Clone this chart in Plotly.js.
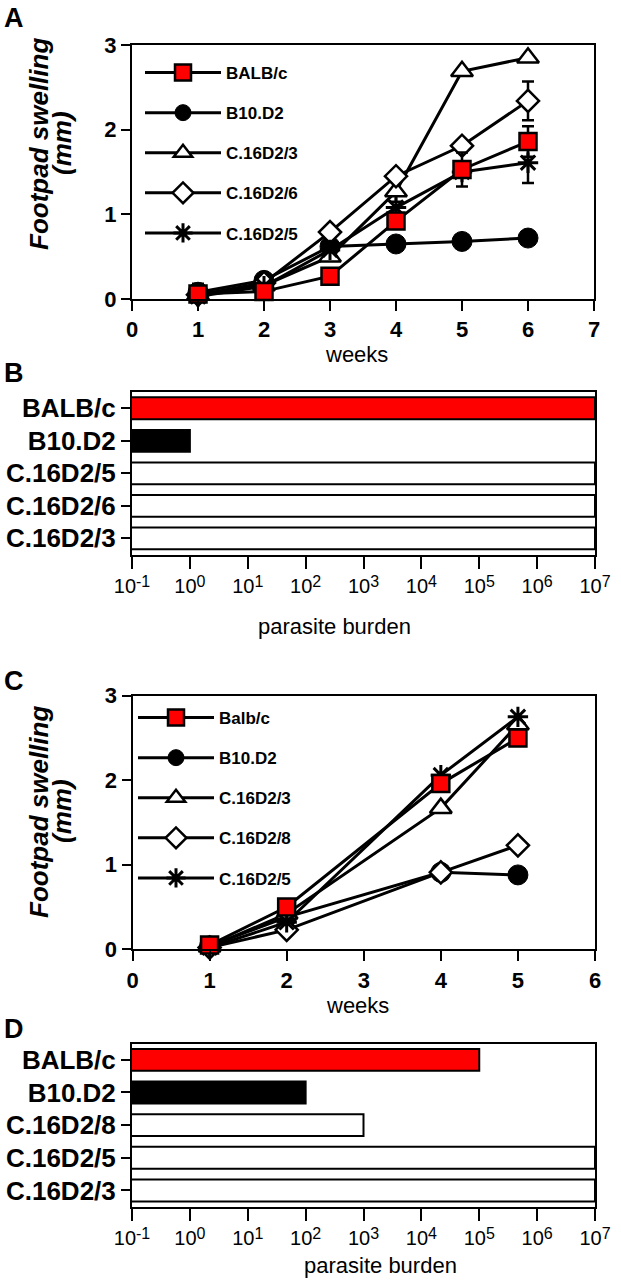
<!DOCTYPE html>
<html><head><meta charset="utf-8">
<script src="https://cdn.plot.ly/plotly-3.0.1.min.js"></script>
<style>html,body{margin:0;padding:0;background:#fff}</style>
</head><body><div id="chart" style="width:621px;height:1280px"></div>
<script>
// ---------- Panel A data ----------
const weeksA = [1, 2, 3, 4, 5, 6];
const balbA = [0.06, 0.09, 0.27, 0.92, 1.53, 1.86];
const balbAErr = [0.12, 0, 0, 0, 0.2, 0.18];
const b10A = [0.08, 0.22, 0.62, 0.65, 0.68, 0.72];
const c3A = [0.05, 0.16, 0.50, 1.27, 2.69, 2.85];
const c3AErr = [0, 0, 0, 0.12, 0, 0];
const c6A = [0.05, 0.19, 0.79, 1.45, 1.81, 2.34];
const c6AErr = [0, 0, 0, 0, 0, 0.23];
const c5A = [0.03, 0.15, 0.58, 1.08, 1.50, 1.61];
const c5AErr = [0, 0, 0, 0, 0, 0.24];
// ---------- Panel C data ----------
const weeksC = [1, 2, 4, 5];
const balbC = [0.05, 0.50, 1.96, 2.50];
const b10C = [0.04, 0.38, 0.91, 0.88];
const c3C = [0.03, 0.42, 1.67, 2.66];
const c8C = [0.02, 0.23, 0.91, 1.23];
const c5C = [0.02, 0.32, 2.06, 2.75];
// ---------- Panel B / D data ----------
const strainsB = ['BALB/c', 'B10.D2', 'C.16D2/5', 'C.16D2/6', 'C.16D2/3'];
const burdenB = [1e7, 1e0, 1e7, 1e7, 1e7];
const strainsD = ['BALB/c', 'B10.D2', 'C.16D2/8', 'C.16D2/5', 'C.16D2/3'];
const burdenD = [1e5, 1e2, 1e3, 1e7, 1e7];
const logTickVals = [0.1, 1, 10, 100, 1e3, 1e4, 1e5, 1e6, 1e7];
const logTickExp = ['-1', '0', '1', '2', '3', '4', '5', '6', '7'];

const FONT = 'Arial, "Liberation Sans", sans-serif';
const W = 621, H = 1280;
const px = v => v / W;
const py = v => 1 - v / H;
const logTickText = logTickExp.map(e => '10<span style="font-size:16px;baseline-shift:40%">' + e + '</span>');

function barColor(name) {
  if (name.toUpperCase() === 'BALB/C') return '#ff0000';
  if (name === 'B10.D2') return '#000000';
  return '#ffffff';
}

const styles = {
  balb: {symbol: 'square', size: 17, color: '#ff0000', line: {color: '#000', width: 2.5}},
  b10: {symbol: 'circle', size: 20, color: '#000', line: {color: '#000', width: 1}},
  c3: {symbol: 'triangle-up', size: 19, color: '#fff', line: {color: '#000', width: 2.5}},
  c6: {symbol: 'diamond', size: 17, color: '#fff', line: {color: '#000', width: 2.5}},
  c5: {symbol: 'asterisk-open', size: 17, color: '#000', line: {color: '#000', width: 3}}
};

function lineTrace(x, y, name, st, xa, ya, leg, rank, err) {
  const t = {
    type: 'scatter', mode: 'lines+markers', x: x, y: y, name: name,
    xaxis: xa, yaxis: ya, legend: leg, legendrank: rank, legendgroup: leg + name,
    line: {color: '#000', width: 3}, marker: st, cliponaxis: false
  };
  if (err) t.error_y = {type: 'data', array: err, visible: true, color: '#000', thickness: 2.5, width: 6};
  return t;
}

const data = [
  // Panel A (draw order: circle, triangle, diamond, star, square)
  lineTrace(weeksA, b10A, 'B10.D2', styles.b10, 'x', 'y', 'legend', 2),
  lineTrace(weeksA, c3A, 'C.16D2/3', styles.c3, 'x', 'y', 'legend', 3, c3AErr),
  lineTrace(weeksA, c6A, 'C.16D2/6', styles.c6, 'x', 'y', 'legend', 4, c6AErr),
  lineTrace(weeksA, c5A, 'C.16D2/5', styles.c5, 'x', 'y', 'legend', 5, c5AErr),
  lineTrace(weeksA, balbA, 'BALB/c', styles.balb, 'x', 'y', 'legend', 1, balbAErr),
  // Panel C
  lineTrace(weeksC, b10C, 'B10.D2', styles.b10, 'x3', 'y3', 'legend2', 2),
  lineTrace(weeksC, c3C, 'C.16D2/3', styles.c3, 'x3', 'y3', 'legend2', 3),
  lineTrace(weeksC, c8C, 'C.16D2/8', styles.c6, 'x3', 'y3', 'legend2', 4),
  lineTrace(weeksC, c5C, 'C.16D2/5', styles.c5, 'x3', 'y3', 'legend2', 5),
  lineTrace(weeksC, balbC, 'Balb/c', styles.balb, 'x3', 'y3', 'legend2', 1),
  // Panel B
  {type: 'bar', orientation: 'h', x: burdenB, y: strainsB, xaxis: 'x2', yaxis: 'y2', showlegend: false,
   marker: {color: strainsB.map(barColor), line: {color: '#000', width: 2}}},
  // Panel D
  {type: 'bar', orientation: 'h', x: burdenD, y: strainsD, xaxis: 'x4', yaxis: 'y4', showlegend: false,
   marker: {color: strainsD.map(barColor), line: {color: '#000', width: 2}}}
];

const axBase = {
  showline: true, linecolor: '#000', linewidth: 2, mirror: true, ticks: 'outside',
  tickcolor: '#000', tickwidth: 2, showgrid: false, zeroline: false, fixedrange: true
};
const boldTick = {family: FONT, size: 22, color: '#000', weight: 'bold'};
const logTick = {family: FONT, size: 20, color: '#000'};
const catTick = {family: FONT, size: 26, color: '#000', weight: 'bold'};

const layout = {
  width: W, height: H, margin: {l: 0, r: 0, t: 0, b: 0},
  paper_bgcolor: '#fff', plot_bgcolor: '#fff', showlegend: true, bargap: 0.33,
  font: {family: FONT, color: '#000'},
  xaxis: Object.assign({}, axBase, {domain: [px(132), px(594)], anchor: 'y', range: [0, 7], dtick: 1, ticklen: 10, tickfont: boldTick}),
  yaxis: Object.assign({}, axBase, {domain: [py(299), py(45)], anchor: 'x', range: [0, 3], dtick: 1, ticklen: 9, tickfont: boldTick}),
  xaxis2: Object.assign({}, axBase, {domain: [px(132), px(595)], anchor: 'y2', type: 'log', range: [-1, 7],
    tickvals: logTickVals, ticktext: logTickText, ticklen: 12, tickfont: logTick}),
  yaxis2: Object.assign({}, axBase, {domain: [py(554.6), py(392)], anchor: 'x2', type: 'category',
    categoryarray: strainsB, range: [4.5, -0.5], ticklen: 9, tickfont: catTick}),
  xaxis3: Object.assign({}, axBase, {domain: [px(132.5), px(595)], anchor: 'y3', range: [0, 6], dtick: 1, ticklen: 10, tickfont: boldTick}),
  yaxis3: Object.assign({}, axBase, {domain: [py(949.3), py(695.7)], anchor: 'x3', range: [0, 3], dtick: 1, ticklen: 9, tickfont: boldTick}),
  xaxis4: Object.assign({}, axBase, {domain: [px(132), px(595)], anchor: 'y4', type: 'log', range: [-1, 7],
    tickvals: logTickVals, ticktext: logTickText, ticklen: 12, tickfont: logTick}),
  yaxis4: Object.assign({}, axBase, {domain: [py(1206.8), py(1043.5)], anchor: 'x4', type: 'category',
    categoryarray: strainsD, range: [4.5, -0.5], ticklen: 9, tickfont: catTick}),
  legend: {x: px(140), y: py(55), xanchor: 'left', yanchor: 'top', bgcolor: 'rgba(0,0,0,0)',
    traceorder: 'grouped', tracegroupgap: 15, itemwidth: 76, itemsizing: 'trace',
    font: {family: FONT, size: 17, color: '#000', weight: 'bold'}},
  legend2: {x: px(133), y: py(700), xanchor: 'left', yanchor: 'top', bgcolor: 'rgba(0,0,0,0)',
    traceorder: 'grouped', tracegroupgap: 15, itemwidth: 76, itemsizing: 'trace',
    font: {family: FONT, size: 17, color: '#000', weight: 'bold'}},
  annotations: []
};

function ann(text, x, y, opts) {
  return Object.assign({text: text, x: px(x), y: py(y), xref: 'paper', yref: 'paper', showarrow: false,
    xanchor: 'center', yanchor: 'middle', font: {family: FONT, size: 22, color: '#000'}}, opts || {});
}
const titleFont = {family: FONT, size: 26, color: '#000', weight: 'bold', style: 'italic'};
const letterFont = {family: FONT, size: 27, color: '#000', weight: 'bold'};
layout.annotations.push(
  ann('A', 14, 17.5, {font: letterFont}),
  ann('B', 14, 373, {font: letterFont}),
  ann('C', 14, 681, {font: letterFont}),
  ann('D', 14, 1029, {font: letterFont}),
  ann('Footpad swelling', 39, 144, {textangle: -90, font: titleFont}),
  ann('(mm)', 62, 143, {textangle: -90, font: titleFont}),
  ann('Footpad swelling', 39, 812, {textangle: -90, font: titleFont}),
  ann('(mm)', 62, 811, {textangle: -90, font: titleFont}),
  ann('weeks', 356, 354),
  ann('weeks', 357, 1005),
  ann('parasite burden', 335, 626),
  ann('parasite burden', 380, 1265)
);

Plotly.newPlot('chart', data, layout, {staticPlot: true, displayModeBar: false});
</script></body></html>
